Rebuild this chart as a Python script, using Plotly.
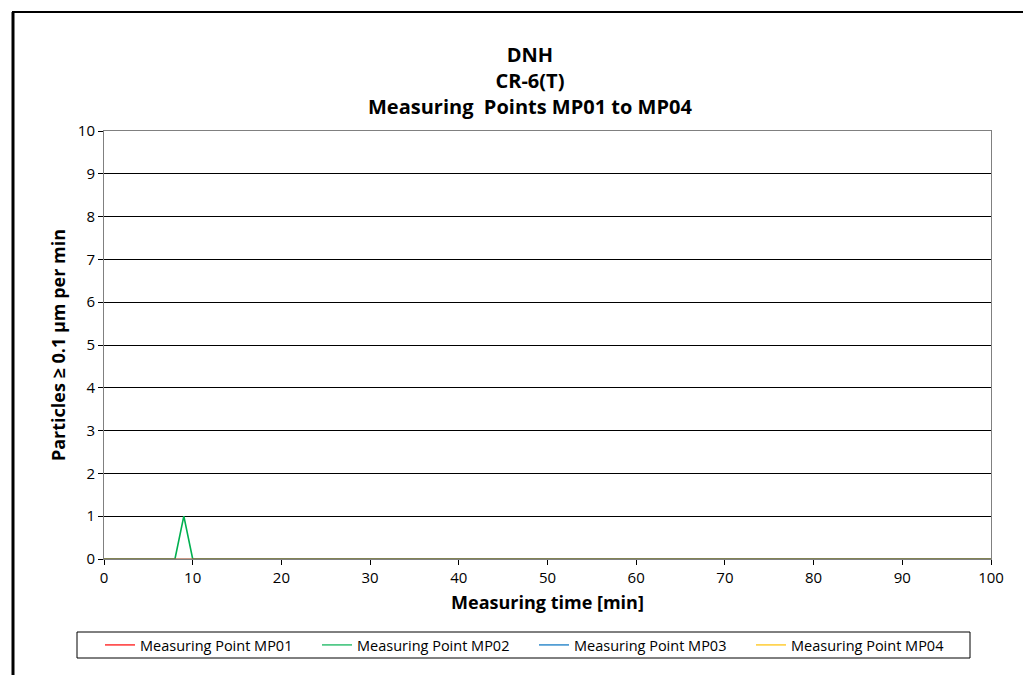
import plotly.graph_objects as go

# ---- data ----
time_min = list(range(0, 101))
mp01 = [0, 0, 0, 0, 0, 0, 0, 0, 0, 0, 0, 0, 0, 0, 0, 0, 0, 0, 0, 0, 0,
        0, 0, 0, 0, 0, 0, 0, 0, 0, 0, 0, 0, 0, 0, 0, 0, 0, 0, 0, 0,
        0, 0, 0, 0, 0, 0, 0, 0, 0, 0, 0, 0, 0, 0, 0, 0, 0, 0, 0, 0,
        0, 0, 0, 0, 0, 0, 0, 0, 0, 0, 0, 0, 0, 0, 0, 0, 0, 0, 0, 0,
        0, 0, 0, 0, 0, 0, 0, 0, 0, 0, 0, 0, 0, 0, 0, 0, 0, 0, 0, 0]
mp02 = [0, 0, 0, 0, 0, 0, 0, 0, 0, 1, 0, 0, 0, 0, 0, 0, 0, 0, 0, 0, 0,
        0, 0, 0, 0, 0, 0, 0, 0, 0, 0, 0, 0, 0, 0, 0, 0, 0, 0, 0, 0,
        0, 0, 0, 0, 0, 0, 0, 0, 0, 0, 0, 0, 0, 0, 0, 0, 0, 0, 0, 0,
        0, 0, 0, 0, 0, 0, 0, 0, 0, 0, 0, 0, 0, 0, 0, 0, 0, 0, 0, 0,
        0, 0, 0, 0, 0, 0, 0, 0, 0, 0, 0, 0, 0, 0, 0, 0, 0, 0, 0, 0]
mp03 = [0, 0, 0, 0, 0, 0, 0, 0, 0, 0, 0, 0, 0, 0, 0, 0, 0, 0, 0, 0, 0,
        0, 0, 0, 0, 0, 0, 0, 0, 0, 0, 0, 0, 0, 0, 0, 0, 0, 0, 0, 0,
        0, 0, 0, 0, 0, 0, 0, 0, 0, 0, 0, 0, 0, 0, 0, 0, 0, 0, 0, 0,
        0, 0, 0, 0, 0, 0, 0, 0, 0, 0, 0, 0, 0, 0, 0, 0, 0, 0, 0, 0,
        0, 0, 0, 0, 0, 0, 0, 0, 0, 0, 0, 0, 0, 0, 0, 0, 0, 0, 0, 0]
mp04 = [0, 0, 0, 0, 0, 0, 0, 0, 0, 0, 0, 0, 0, 0, 0, 0, 0, 0, 0, 0, 0,
        0, 0, 0, 0, 0, 0, 0, 0, 0, 0, 0, 0, 0, 0, 0, 0, 0, 0, 0, 0,
        0, 0, 0, 0, 0, 0, 0, 0, 0, 0, 0, 0, 0, 0, 0, 0, 0, 0, 0, 0,
        0, 0, 0, 0, 0, 0, 0, 0, 0, 0, 0, 0, 0, 0, 0, 0, 0, 0, 0, 0,
        0, 0, 0, 0, 0, 0, 0, 0, 0, 0, 0, 0, 0, 0, 0, 0, 0, 0, 0, 0]
series_names = ["Measuring Point MP01", "Measuring Point MP02",
                "Measuring Point MP03", "Measuring Point MP04"]
series_values = [mp01, mp02, mp03, mp04]
series_colors = ["#FF0000", "#00B050", "#0070C0", "#FFC000"]

title_lines = ["DNH", "CR-6(T)", "Measuring  Points MP01 to MP04"]
x_title = "Measuring time [min]"
y_title = "Particles \u2265 0.1 \u00b5m per min"
x_ticks = [0, 10, 20, 30, 40, 50, 60, 70, 80, 90, 100]
y_ticks = [0, 1, 2, 3, 4, 5, 6, 7, 8, 9, 10]

FONT = "Open Sans, Noto Sans, sans-serif"

# page body has an 8px margin: work in reference-page pixels, shift by OFF
OFF = 8
W, H = 1031 - OFF, 675 - OFF
L, R, T, B = 104, 991, 131, 559          # plot area in page pixels
pw, ph = R - L, B - T


def px_x(p):
    return (p - L) / pw


def px_y(p):
    return (B - p) / ph


fig = go.Figure()

# drawing order / blending so overlapping zero lines mix like the reference
draw_order = [1, 0, 2, 3]
draw_opacity = [1.0, 0.5, 1 / 3, 0.25]
for k, i in enumerate(draw_order):
    fig.add_trace(go.Scatter(
        x=time_min, y=series_values[i], mode="lines",
        line=dict(color=series_colors[i], width=1.6),
        opacity=draw_opacity[k], showlegend=False, hoverinfo="skip"))

# legend entries
for name, color in zip(series_names, series_colors):
    fig.add_trace(go.Scatter(
        x=[None], y=[None], mode="lines", name=name,
        line=dict(color=color, width=1.2)))

title_text = "<b>" + "<br>".join(title_lines) + "</b>"

fig.update_layout(
    width=W, height=H,
    margin=dict(l=L - OFF, r=W - (R - OFF), t=T - OFF, b=H - (B - OFF)),
    paper_bgcolor="white", plot_bgcolor="white",
    font=dict(family=FONT, size=15, color="black"),
    annotations=[dict(
        text=title_text, xref="paper", yref="paper",
        x=px_x(530), y=px_y(80), xanchor="center", yanchor="middle",
        showarrow=False, align="center",
        font=dict(family=FONT, size=20, color="black"))],
    xaxis=dict(
        range=[0, 100], tickvals=x_ticks, ticks="outside", ticklen=5,
        tickcolor="black", showgrid=False, zeroline=False,
        showline=True, linecolor="#808080", linewidth=1, mirror=True,
        tickfont=dict(size=15),
        title=dict(text="<b>" + x_title + "</b>",
                   font=dict(size=18), standoff=10)),
    yaxis=dict(
        range=[0, 10], tickvals=y_ticks, ticks="outside", ticklen=5,
        tickcolor="black", showgrid=True, gridcolor="black", gridwidth=1,
        zeroline=False, showline=True, linecolor="#808080", linewidth=1,
        mirror=True, tickfont=dict(size=15),
        title=dict(text="<b>" + y_title + "</b>",
                   font=dict(size=18), standoff=7)),
    legend=dict(
        orientation="h", x=px_x(100), xanchor="left",
        y=px_y(645), yanchor="middle",
        bgcolor="rgba(0,0,0,0)", borderwidth=0,
        entrywidth=172, entrywidthmode="pixels",
        font=dict(size=14.5), itemwidth=30),
    shapes=[
        dict(type="rect", xref="paper", yref="paper",
             x0=px_x(77), x1=px_x(970), y0=px_y(632), y1=px_y(658),
             line=dict(color="black", width=1), layer="above"),
        dict(type="line", xref="paper", yref="paper",
             x0=px_x(13), x1=px_x(13), y0=px_y(12), y1=px_y(690),
             line=dict(color="black", width=3)),
        dict(type="line", xref="paper", yref="paper",
             x0=px_x(12), x1=px_x(1045), y0=px_y(12), y1=px_y(12),
             line=dict(color="black", width=2)),
    ],
)

fig.write_html("out.html")
